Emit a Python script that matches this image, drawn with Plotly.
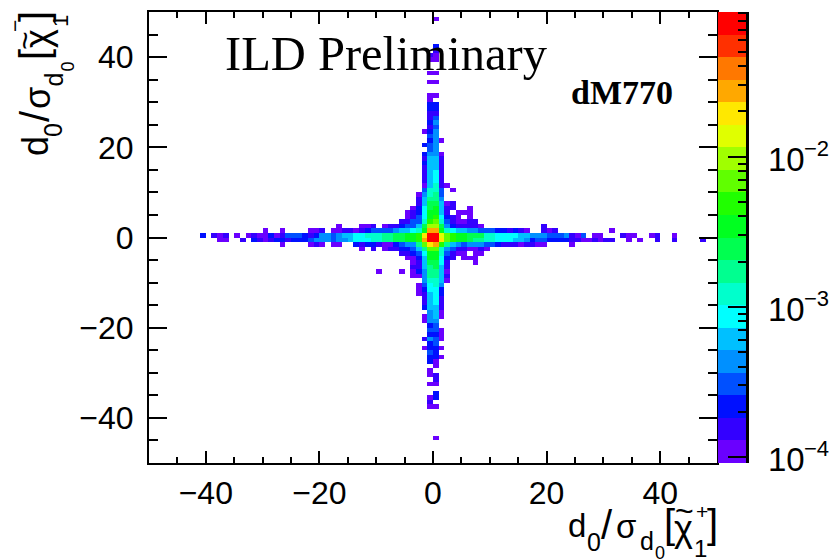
import plotly.graph_objects as go

# colour bands, bottom to top
band_colors = ["#6a00ff", "#3300ff", "#0010ff", "#0050ff", "#0090ff", "#00c0ff", "#00ffff",
               "#00ffcc", "#00ff90", "#00ff50", "#00ff20", "#20ff00", "#60ff00", "#a0ff00",
               "#e0ff00", "#ffe800", "#ffa800", "#ff7800", "#ff3000", "#ff0000"]
log_min, log_max = -4.04, -1.037
bar_exponents = [-2, -3, -4]

# histogram: one entry per y bin
# (lower edge of y bin, lower edge of first x bin, band code per x bin, '.' = empty)
codes = "0123456789abcdefghij"
hist_rows = [
    (48, 0, "0"), (42, 0, "2"), (41, 0, "1"), (40, -1, "10"), (39, -1, "00"), (36, -1, "00"),
    (34, -1, "00"), (31, -1, "00"), (30, -1, "0"), (29, -1, "22"), (28, -1, "22"), (27, -1, "11"),
    (26, -1, "13"), (25, -1, "24"), (24, -1, "13"), (23, -2, "024"), (22, -1, "34"), (21, -1, "240"),
    (20, -2, "234"), (19, -1, "34"), (18, -2, "2440"), (17, -2, "1551"), (16, -2, "2551"),
    (15, -2, "1551"), (14, -2, "1561"), (13, -2, "1561"), (12, -2, "1561"), (11, -2, "05710"),
    (10, -2, "3773.0"), (9, -3, "04783"), (8, -3, "15884"), (7, -3, "1599501"),
    (6, -4, "0269a511..0"), (5, -5, "0126aa51.000"), (4, -5, "0136ab6210.0"),
    (3, -6, "11337bc7310011"),
    (2, -17, "0...001.0112335" + "9dd94211110" + ".........." + "1"),
    (1, -30, "0..0....001.0011" + "0123333" + "45567agga7655443332212" + "10..101" + ".........0"),
    (0, -41, "2.101.0.010" + "0201333212" + "44345566777889" + "9aabfjjecbaa999" + "77666655444333" + "4103.00...100..01..0"),
    (-1, -38, "00..1.2101221" + "22234443" + "44566677" + "8899aabgjjfcbaa988776665" + "54" + "23322221" + "1001011" + "..0.0..1..1....1"),
    (-2, -27, "0....010.00..212" + "21002344" + "8cfgb85" + "43" + "4443321" + "1101100....0"),
    (-3, -13, "0.1.011" + "22358cc74" + "3110010"),
    (-4, -6, "11236aa73100.00"), (-5, -5, "0025aa621.000"), (-6, -4, "0159961....0"),
    (-7, -4, "1158951"), (-8, -10, "0...0.024" + "8850"), (-9, -4, "0048851"), (-10, -2, "47750"),
    (-11, -3, "03674"), (-12, -3, "02662"), (-13, -3, "01562"), (-14, -2, "1561"), (-15, -2, "1561"),
    (-16, -2, "2551"), (-17, -1, "450"), (-18, -2, "0450"), (-19, -2, "044"), (-20, -1, "23"),
    (-21, -1, "330"), (-22, -1, "220"), (-23, -2, "1430"), (-24, -1, "23"), (-25, -2, "0220"),
    (-26, -1, "32"), (-27, -1, "220"), (-28, -1, "20"), (-29, 0, "0"), (-30, -1, "0"), (-31, -1, "01"),
    (-32, 0, "1"), (-33, -1, "00"), (-35, 0, "2"), (-36, -1, "02"), (-37, -1, "1"), (-38, -1, "00"),
    (-45, 0, "0"),
]
x_ticks = [-40, -20, 0, 20, 40]
y_ticks = [-40, -20, 0, 20, 40]

band = (log_max - log_min) / len(band_colors)
x_edges = list(range(-50, 51))
y_edges = list(range(-50, 51))
grid = [[None] * 100 for _ in range(100)]
for r, start, s in hist_rows:
    for i, c in enumerate(s):
        if c != ".":
            grid[r + 50][start + i + 50] = log_min + (codes.index(c) + 0.5) * band

scale = []
n = len(band_colors)
for i, c in enumerate(band_colors):
    scale += [[i / n, c], [(i + 1) / n, c]]

W, H = 833, 559
L, R, T, B = 149, 746, 12, 463
split1, split2 = (717 - L) / (R - L), (718 - L) / (R - L)


def px(x):
    return (x - L) / (R - L)


def py(y):
    return (B - y) / (B - T)


fig = go.Figure()
fig.add_trace(go.Heatmap(x=x_edges, y=y_edges, z=grid, colorscale=scale, zmin=log_min, zmax=log_max,
                         showscale=False, hoverongaps=False, xaxis="x", yaxis="y"))
bar_edges = [10 ** (log_min + i * band) for i in range(n + 1)]
bar_z = [[log_min + (i + 0.5) * band] for i in range(n)]
fig.add_trace(go.Heatmap(x=[0, 1], y=bar_edges, z=bar_z, colorscale=scale, zmin=log_min, zmax=log_max,
                         showscale=False, xaxis="x2", yaxis="y2", hoverinfo="skip"))

tick_font = dict(family="Liberation Sans, Arial, sans-serif", size=32, color="black")
axis_common = dict(showgrid=False, zeroline=False, showline=True, linecolor="black", mirror="ticks",
                   ticks="inside", tickcolor="black", tickfont=tick_font, tickwidth=2)
fig.update_layout(
    width=W, height=H, margin=dict(l=L, r=W - R, t=T, b=H - B, pad=0, autoexpand=False),
    paper_bgcolor="white", plot_bgcolor="white", showlegend=False,
    xaxis=dict(domain=[0, split1], range=[-50, 50], tickvals=x_ticks, ticklen=12, linewidth=2,
               ticklabelstandoff=1, minor=dict(dtick=5, tick0=0, ticks="inside", ticklen=6, tickwidth=2, tickcolor="black"),
               **axis_common),
    yaxis=dict(domain=[0, 1], range=[-50, 50], tickvals=y_ticks, ticklen=18, linewidth=2,
               ticklabelstandoff=7, minor=dict(dtick=5, tick0=0, ticks="inside", ticklen=9, tickwidth=2, tickcolor="black"),
               **axis_common),
    xaxis2=dict(domain=[split2, 1], range=[0, 1], visible=False, anchor="y2"),
    yaxis2=dict(domain=[0, 1], type="log", range=[log_min, log_max], anchor="x2", side="right", showgrid=False,
                zeroline=False, showline=True, linecolor="black", linewidth=2.5, ticks="inside", ticklen=18,
                tickwidth=2, tickcolor="black", dtick=1, showticklabels=False,
                minor=dict(ticks="inside", ticklen=8, tickwidth=2, tickcolor="black")),
)


def label(x, y, text, size, family="Liberation Sans", angle=0, bold=False):
    fig.add_annotation(x=px(x), y=py(y), xref="paper", yref="paper", text=f"<b>{text}</b>" if bold else text,
                       showarrow=False, xanchor="center", yanchor="middle", textangle=angle,
                       font=dict(family=family, size=size, color="black"))


# colour bar labels, tied to the log axis
for e in bar_exponents:
    fig.add_annotation(x=px(786), y=e, xref="paper", yref="y2", text="10", showarrow=False, yshift=-3,
                       xanchor="center", yanchor="middle",
                       font=dict(family="Liberation Sans", size=33, color="black"))
    fig.add_annotation(x=px(816), y=e, xref="paper", yref="y2", text=f"−{abs(e)}", showarrow=False, yshift=8,
                       xanchor="center", yanchor="middle",
                       font=dict(family="Liberation Sans", size=22, color="black"))

label(386, 53, "ILD Preliminary", 48.5, "Liberation Serif")
label(622, 92, "dM770", 34, "Liberation Serif", bold=True)

# x title, assembled piece by piece
label(577, 525, "d", 33)
label(594, 542, "0", 25)
label(607, 525, "/", 40)
label(626, 526, "σ", 33)
label(647, 541, "d", 25)
label(660, 553, "0", 18)
label(669, 524, "[", 40)
label(683, 528, "χ", 36)
label(684, 511, "~", 32)
label(702, 511, "+", 21)
label(700, 548, "1", 24)
label(712, 524, "]", 40)

# y title, same pieces, rotated
label(35, 146, "d", 36, angle=-90)
label(53, 130, "0", 25, angle=-90)
label(35, 116, "/", 40, angle=-90)
label(37, 98, "σ", 36, angle=-90)
label(53.5, 80, "d", 25, angle=-90)
label(67.5, 67, "0", 18, angle=-90)
label(34, 55, "[", 40, angle=-90)
label(38, 39, "χ", 36, angle=-90)
label(25, 41, "~", 32, angle=-90)
label(15, 26, "−", 21, angle=-90)
label(61, 21, "1", 22, angle=-90)
label(34, 17, "]", 40, angle=-90)

fig.write_html("out.html", config={"displayModeBar": False}, post_script="document.body.style.margin='0';")
